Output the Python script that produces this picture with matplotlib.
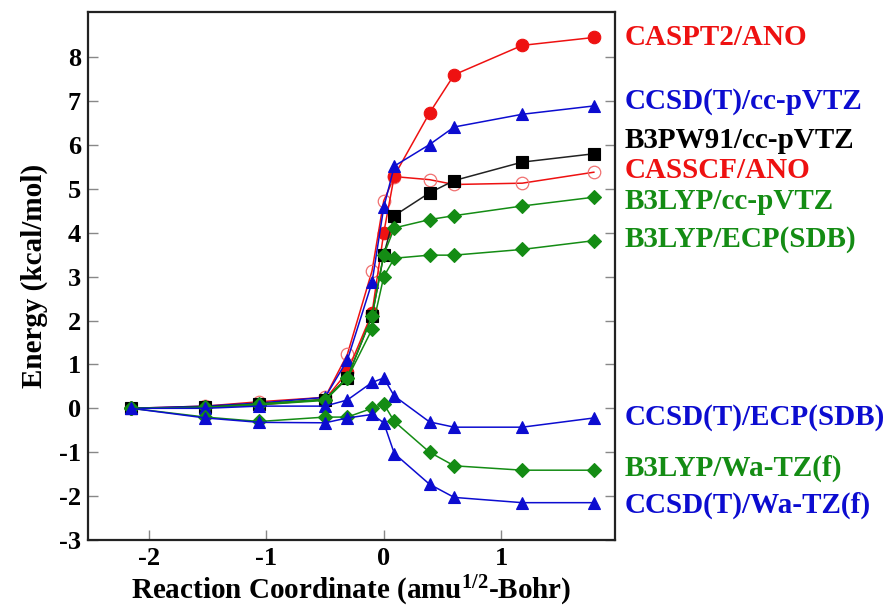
import matplotlib
matplotlib.use("Agg")
import matplotlib.pyplot as plt
import matplotlib.transforms as mtransforms

# ---------------- data ----------------
x = [-2.15, -1.52, -1.06, -0.50, -0.31, -0.10, 0.00, 0.09, 0.39, 0.60, 1.18, 1.79]

caspt2_ano   = [0.0, 0.02, 0.08, 0.20, 0.83, 2.17, 4.00, 5.30, 6.73, 7.60, 8.27, 8.45]
ccsdt_ccpvtz = [0.0, 0.05, 0.12, 0.25, 1.10, 2.87, 4.58, 5.52, 6.01, 6.41, 6.70, 6.89]
b3pw91_ccpvtz = [0.0, 0.03, 0.10, 0.20, 0.70, 2.10, 3.50, 4.39, 4.91, 5.19, 5.61, 5.80]
casscf_ano   = [0.0, 0.05, 0.15, 0.25, 1.23, 3.13, 4.73, 5.28, 5.21, 5.10, 5.13, 5.38]
b3lyp_ccpvtz = [0.0, 0.02, 0.10, 0.20, 0.70, 2.10, 3.50, 4.11, 4.30, 4.39, 4.61, 4.81]
b3lyp_ecp    = [0.0, 0.02, 0.08, 0.18, 0.68, 1.80, 3.00, 3.42, 3.49, 3.49, 3.62, 3.82]
ccsdt_ecp    = [0.0, 0.00, 0.05, 0.05, 0.19, 0.59, 0.69, 0.28, -0.31, -0.43, -0.43, -0.22]
b3lyp_watz   = [0.0, -0.20, -0.30, -0.20, -0.20, 0.00, 0.10, -0.30, -1.00, -1.31, -1.41, -1.41]
ccsdt_watz   = [0.0, -0.22, -0.32, -0.33, -0.22, -0.14, -0.33, -1.03, -1.73, -2.03, -2.15, -2.15]

series_names = ["CASPT2/ANO", "CCSD(T)/cc-pVTZ", "B3PW91/cc-pVTZ", "CASSCF/ANO",
                "B3LYP/cc-pVTZ", "B3LYP/ECP(SDB)", "CCSD(T)/ECP(SDB)",
                "B3LYP/Wa-TZ(f)", "CCSD(T)/Wa-TZ(f)"]
series_values = [caspt2_ano, ccsdt_ccpvtz, b3pw91_ccpvtz, casscf_ano,
                 b3lyp_ccpvtz, b3lyp_ecp, ccsdt_ecp, b3lyp_watz, ccsdt_watz]

x_ticks = [-2, -1, 0, 1]
y_ticks = [-3, -2, -1, 0, 1, 2, 3, 4, 5, 6, 7, 8]

# ---------------- styles / layout ----------------
RED = "#ee1111"
BLUE = "#0c0cd0"
GREEN = "#148c14"
BLACK = "#000000"

styles = [
    dict(color=RED, marker="o", mfc=RED, mec=RED, ms=9),
    dict(color=BLUE, marker="^", mfc=BLUE, mec=BLUE, ms=9),
    dict(color="#222222", marker="s", mfc=BLACK, mec=BLACK, ms=9),
    dict(color=RED, marker="o", mfc="none", mec="#f07070", ms=9, mew=0.9),
    dict(color=GREEN, marker="D", mfc=GREEN, mec=GREEN, ms=7),
    dict(color=GREEN, marker="D", mfc=GREEN, mec=GREEN, ms=7),
    dict(color=BLUE, marker="^", mfc=BLUE, mec=BLUE, ms=9),
    dict(color=GREEN, marker="D", mfc=GREEN, mec=GREEN, ms=7),
    dict(color=BLUE, marker="^", mfc=BLUE, mec=BLUE, ms=9),
]
label_colors = [RED, BLUE, BLACK, RED, GREEN, GREEN, BLUE, GREEN, BLUE]
label_y = [8.44, 7.0, 6.1, 5.43, 4.72, 3.85, -0.2, -1.37, -2.2]

SERIF = ["Liberation Serif", "DejaVu Serif"]
plt.rcParams["mathtext.fontset"] = "custom"
plt.rcParams["mathtext.rm"] = "Liberation Serif:bold"
plt.rcParams["mathtext.bf"] = "Liberation Serif:bold"
plt.rcParams["mathtext.it"] = "Liberation Serif:bold"

fig = plt.figure(figsize=(8.94, 6.10), dpi=100)
ax = fig.add_axes([0.0984, 0.1148, 0.5895, 0.8655])

order = [3, 0, 1, 2, 4, 5, 6, 7, 8]
for i in order:
    st = styles[i]
    ax.plot(x, series_values[i], color=st["color"], lw=1.1,
            marker=st["marker"], markersize=st["ms"],
            markerfacecolor=st["mfc"], markeredgecolor=st["mec"],
            markeredgewidth=st.get("mew", 0.8), zorder=3 if i != 3 else 2)

ax.set_xlim(-2.52, 1.97)
ax.set_ylim(-3, 9.03)
ax.set_xticks(x_ticks)
ax.set_yticks(y_ticks)
ax.set_xticklabels([str(t) for t in x_ticks], fontfamily=SERIF, fontweight="bold", fontsize=19)
ax.set_yticklabels([str(t) for t in y_ticks], fontfamily=SERIF, fontweight="bold", fontsize=19)
ax.tick_params(axis="both", direction="in", length=7, width=1.0, color="#888888",
               right=True, top=False, pad=5)
for sp in ax.spines.values():
    sp.set_linewidth(1.6)
    sp.set_color("#222222")

ax.set_xlabel("Reaction Coordinate (amu$^{1/2}$-Bohr)", fontfamily=SERIF,
              fontweight="bold", fontsize=21, labelpad=3)
ax.set_ylabel("Energy (kcal/mol)", fontfamily=SERIF, fontweight="bold", fontsize=21, labelpad=8)

trans = mtransforms.blended_transform_factory(ax.transAxes, ax.transData)
for name, col, yy in zip(series_names, label_colors, label_y):
    ax.text(1.019, yy, name, transform=trans, color=col, fontfamily=SERIF,
            fontweight="bold", fontsize=21, va="center", ha="left", clip_on=False)

fig.savefig("out.png", dpi=100)
